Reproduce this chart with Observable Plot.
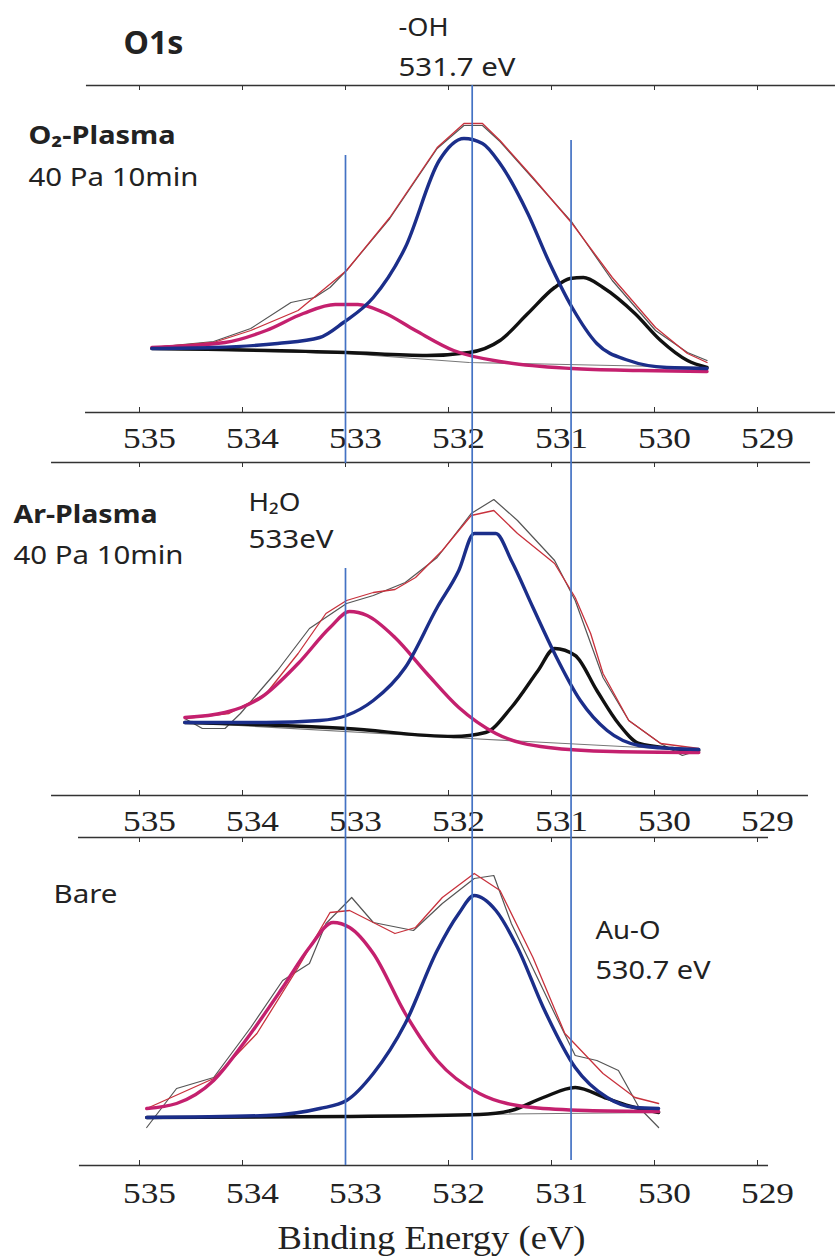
<!DOCTYPE html>
<html><head><meta charset="utf-8">
<script src="https://cdn.jsdelivr.net/npm/d3@7"></script>
<script src="https://cdn.jsdelivr.net/npm/@observablehq/plot@0.6"></script>
<style>
html,body{margin:0;padding:0;background:#fff;overflow:hidden;}
#fig{position:relative;width:835px;height:1256px;overflow:hidden;background:#fff;}
#fig svg{position:absolute;left:0;overflow:visible;background:transparent;}
</style></head><body><div id="fig"></div>
<script>
// ---- axis ticks (Binding Energy, eV) ----
const ticks = [535, 534, 533, 532, 531, 530, 529];
// vertical reference lines (eV)
const markerE = [533.0, 531.77, 530.81];

// ---- Panel 1: O2-Plasma, 40 Pa 10min  [energy eV, intensity a.u.] ----
const p1Raw = [[534.88,65],[534.28,71],[533.92,84],[533.53,110],[533.30,115],[533.15,125],[532.99,142],[532.57,194],[532.11,264],[531.85,287],[531.67,287],[531.50,271],[531.18,234],[530.80,190],[530.41,132],[529.99,82],[529.68,60],[529.49,52]];
const p1Env = [[534.88,65],[534.28,70],[533.92,82],[533.46,102],[532.99,142],[532.57,195],[532.11,265],[531.85,289],[531.67,289],[531.50,272],[531.18,235],[530.80,189],[530.41,135],[529.99,85],[529.68,59],[529.49,50]];
const p1OH  = [[534.88,64],[534.28,65],[533.66,69],[533.25,75],[533.02,90],[532.73,115],[532.42,165],[532.09,252],[531.85,274],[531.67,269],[531.50,249],[531.23,199],[531.03,152],[530.80,105],[530.56,69],[530.25,52],[529.88,45],[529.49,44]];
const p1H2O = [[534.88,65],[534.17,70],[533.77,82],[533.41,99],[533.10,108],[532.88,108],[532.63,100],[532.32,82],[531.95,62],[531.44,50],[530.80,44],[530.15,42],[529.49,41]];
const p1AuO = [[534.88,64],[532.99,60],[532.21,57],[531.80,60],[531.50,72],[531.23,99],[530.97,125],[530.82,134],[530.69,135],[530.50,125],[530.19,99],[529.94,72],[529.68,52],[529.49,45]];
const p1Bg  = [[534.88,64],[532.99,59],[531.80,50],[529.49,45]];

// ---- Panel 2: Ar-Plasma, 40 Pa 10min ----
const p2Raw = [[534.56,77],[534.39,67],[534.17,67],[534.02,82],[533.66,125],[533.35,167],[532.99,192],[532.73,200],[532.42,213],[532.11,238],[531.78,282],[531.56,296],[531.33,275],[530.97,235],[530.77,195],[530.50,118],[530.25,75],[529.94,52],[529.73,40],[529.57,45]];
const p2Env = [[534.56,77],[534.13,82],[533.77,102],[533.46,142],[533.19,182],[532.99,195],[532.73,203],[532.52,206],[532.32,218],[532.06,245],[531.78,280],[531.56,285],[531.33,262],[530.97,232],[530.77,198],[530.62,162],[530.50,122],[530.25,75],[529.94,52],[529.57,47]];
const p2OH  = [[534.56,73],[533.77,73],[533.25,75],[532.99,80],[532.73,95],[532.42,128],[532.11,188],[531.90,225],[531.75,262],[531.54,262],[531.39,235],[531.18,188],[530.97,142],[530.72,95],[530.46,65],[530.15,50],[529.83,47],[529.57,46]];
const p2H2O = [[534.56,78],[534.17,83],[533.82,98],[533.46,132],[533.15,168],[532.96,184],[532.79,180],[532.52,158],[532.21,122],[531.90,88],[531.54,62],[531.03,48],[530.41,44],[529.57,43]];
const p2AuO = [[534.56,73],[532.99,67],[531.95,59],[531.64,63],[531.39,88],[531.13,125],[530.97,147],[530.77,140],[530.56,105],[530.35,72],[530.15,52],[529.83,47],[529.57,45]];
const p2Bg  = [[534.56,73],[531.80,57],[529.57,45]];

// ---- Panel 3: Bare ----
const p3Raw = [[534.93,38],[534.64,77],[534.28,88],[533.92,138],[533.61,185],[533.35,202],[533.19,242],[532.94,268],[532.73,243],[532.34,235],[532.06,262],[531.75,287],[531.56,290],[531.39,242],[530.97,152],[530.77,110],[530.56,105],[530.35,95],[530.15,58],[529.96,38]];
const p3Env = [[534.93,57],[534.28,87],[533.86,132],[533.46,198],[533.15,253],[532.96,255],[532.73,243],[532.52,232],[532.32,238],[532.06,268],[531.75,292],[531.50,275],[531.18,208],[530.87,132],[530.50,92],[530.19,68],[529.96,62]];
const p3OH  = [[534.93,48],[533.77,50],[533.25,57],[532.99,65],[532.73,92],[532.42,142],[532.11,215],[531.90,252],[531.75,270],[531.54,255],[531.33,218],[531.08,158],[530.77,98],[530.46,68],[530.19,58],[529.96,57]];
const p3H2O = [[534.93,57],[534.64,62],[534.28,85],[533.97,125],[533.61,178],[533.35,218],[533.12,243],[532.96,238],[532.73,212],[532.42,152],[532.11,105],[531.70,72],[531.18,58],[530.66,55],[529.96,54]];
const p3AuO = [[534.93,48],[532.99,49],[531.70,51],[531.39,55],[531.08,68],[530.77,78],[530.46,67],[530.19,58],[529.96,53]];
const p3Bg  = [[534.93,48],[529.96,53]];

// ---- text labels ----
const labels = [
  {t:"O1s", x:123, y:53, fs:32, fw:"bold", w:60},
  {t:"-OH", x:398, y:35, fs:25, fw:"normal", w:50},
  {t:"531.7 eV", x:398, y:75, fs:26, fw:"normal", w:117},
  {t:"O\u2082-Plasma", x:28, y:143, fs:25, fw:"bold", w:147},
  {t:"40 Pa 10min", x:28, y:185, fs:25, fw:"normal", w:171},
  {t:"Ar-Plasma", x:13, y:522, fs:25, fw:"bold", w:144},
  {t:"40 Pa 10min", x:13, y:563, fs:25, fw:"normal", w:170},
  {t:"H\u2082O", x:248, y:510, fs:25, fw:"normal", w:52},
  {t:"533eV", x:248, y:547, fs:25, fw:"normal", w:85},
  {t:"Bare", x:53, y:902, fs:25, fw:"normal", w:64},
  {t:"Au-O", x:595, y:938, fs:25, fw:"normal", w:65},
  {t:"530.7 eV", x:595, y:978, fs:25, fw:"normal", w:115}
];
const xTitle = "Binding Energy (eV)";

const W = 835, ML = 139, MR = 78;
const fig = document.getElementById("fig");
const rows = a => a.map(([E, I]) => ({E, I}));

const panels = [
  {top:0, height:455, mt:85, mb:43, topLine:[535.515,528.243], botLine:[535.524,528.243], labelDy:35,
   raw:p1Raw, env:p1Env, oh:p1OH, h2o:p1H2O, auo:p1AuO, bg:p1Bg},
  {top:455, height:377, mt:7, mb:37, topLine:[535.854,528.485], botLine:[535.854,528.505], labelDy:35,
   raw:p2Raw, env:p2Env, oh:p2OH, h2o:p2H2O, auo:p2AuO, bg:p2Bg},
  {top:832, height:424, mt:5, mb:91, topLine:[535.592,528.893], botLine:[535.583,528.893], labelDy:37,
   raw:p3Raw, env:p3Env, oh:p3OH, h2o:p3H2O, auo:p3AuO, bg:p3Bg, title:true}
];

function fitText(svg, widths) {
  svg.querySelectorAll("text").forEach(t => {
    const w = widths[t.textContent];
    if (w) { t.setAttribute("textLength", w); t.setAttribute("lengthAdjust", "spacingAndGlyphs"); }
  });
}

const tickWidths = {}; ticks.forEach(t => tickWidths[String(t)] = 53);
tickWidths[xTitle] = 308;

for (const p of panels) {
  const fh = p.height - p.mt - p.mb;
  const line = (arr, stroke, sw, curve) => Plot.line(rows(arr), {x:"E", y:"I", stroke, strokeWidth:sw, curve, strokeLinejoin:"round", strokeLinecap:"round"});
  const marks = [
    Plot.ruleY([fh], {x1:p.topLine[0], x2:p.topLine[1], stroke:"#333", strokeWidth:1.6}),
    Plot.ruleY([0], {x1:p.botLine[0], x2:p.botLine[1], stroke:"#333", strokeWidth:1.6}),
    Plot.ruleX(ticks, {x:d=>d, y1:fh, y2:fh-5, stroke:"#333", strokeWidth:1}),
    Plot.ruleX(ticks, {x:d=>d, y1:0, y2:5, stroke:"#333", strokeWidth:1}),
    Plot.text(ticks, {x:d=>d, text:d=>String(d), frameAnchor:"bottom", dx:10, dy:p.labelDy, lineAnchor:"bottom", fontFamily:"Liberation Serif", fontSize:30, fill:"#222"}),
    line(p.bg, "#777", 1.1, "linear"),
    line(p.raw, "#555", 1.2, "linear"),
    line(p.env, "#c8313c", 1.3, "linear"),
    line(p.auo, "#111", 3.4, "monotone-x"),
    line(p.h2o, "#c4206e", 3.4, "monotone-x"),
    line(p.oh, "#1b2e8a", 3.4, "monotone-x")
  ];
  if (p.title) marks.push(Plot.text([xTitle], {frameAnchor:"bottom", dx:-17, dy:83, lineAnchor:"bottom", fontFamily:"Liberation Serif", fontSize:33, fill:"#222"}));
  const svg = Plot.plot({
    width:W, height:p.height, marginLeft:ML, marginRight:MR, marginTop:p.mt, marginBottom:p.mb,
    x:{domain:[535,529], axis:null}, y:{domain:[0,fh], axis:null},
    style:{background:"transparent", overflow:"visible"},
    marks
  });
  svg.style.top = p.top + "px";
  fitText(svg, tickWidths);
  fig.appendChild(svg);
}

// overlay: vertical reference lines and annotations
const labelWidths = {}; labels.forEach(l => labelWidths[l.t] = l.w);
const ov = Plot.plot({
  width:W, height:1256, marginLeft:ML, marginRight:MR, marginTop:0, marginBottom:0,
  x:{domain:[535,529], axis:null},
  style:{background:"transparent", overflow:"visible"},
  marks:[
    Plot.ruleX([markerE[0]], {insetTop:155, insetBottom:793, stroke:"#4472c4", strokeWidth:1.7}),
    Plot.ruleX([markerE[0]], {insetTop:568, insetBottom:91, stroke:"#4472c4", strokeWidth:1.7}),
    Plot.ruleX([markerE[1]], {insetTop:85, insetBottom:96, stroke:"#4472c4", strokeWidth:1.7}),
    Plot.ruleX([markerE[2]], {insetTop:140, insetBottom:96, stroke:"#4472c4", strokeWidth:1.7}),
    ...labels.map(l => Plot.text([l.t], {frameAnchor:"top-left", dx:l.x-ML, dy:l.y, lineAnchor:"bottom", textAnchor:"start", fontFamily:"Noto Sans", fontSize:l.fs, fontWeight:l.fw, fill:"#222"}))
  ]
});
ov.style.top = "0px";
fitText(ov, labelWidths);
fig.appendChild(ov);
</script></body></html>
